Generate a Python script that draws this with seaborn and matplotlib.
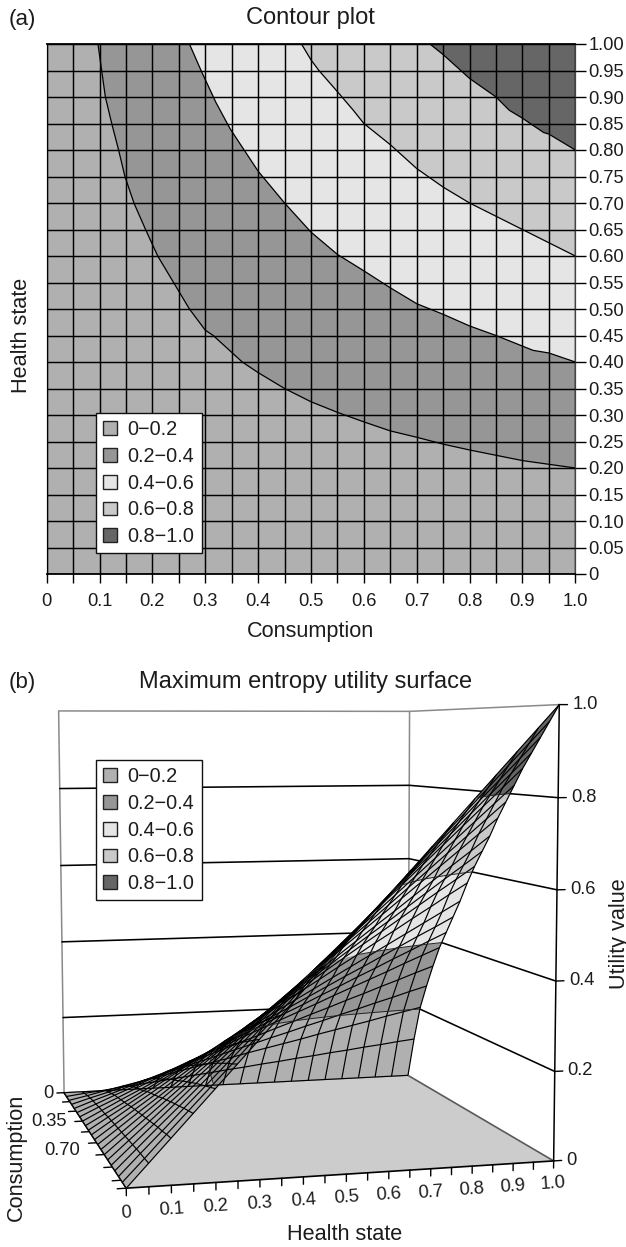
import numpy as np
import matplotlib
matplotlib.use("Agg")
import matplotlib.pyplot as plt
from matplotlib.patches import Patch
from matplotlib.ticker import MultipleLocator, FixedLocator, FixedFormatter
from mpl_toolkits.mplot3d.art3d import Poly3DCollection, Line3DCollection
import seaborn as sns

# ---------- data ----------
band_labels = ["0\u22120.2", "0.2\u22120.4", "0.4\u22120.6", "0.6\u22120.8", "0.8\u22121.0"]
band_colors = ["#b0b0b0", "#969696", "#e5e5e5", "#c9c9c9", "#666666"]
band_levels = [0.0, 0.2, 0.4, 0.6, 0.8, 1.0]

c02_x = [0.097, 0.104, 0.111, 0.123, 0.136, 0.148, 0.165, 0.187, 0.21, 0.24, 0.27, 0.30, 0.315, 0.37, 0.40, 0.45, 0.50, 0.55, 0.60, 0.65, 0.70, 0.75, 0.80, 0.85, 0.90, 0.95, 1.0]
c02_y = [1.0, 0.95, 0.90, 0.85, 0.80, 0.75, 0.70, 0.65, 0.60, 0.55, 0.50, 0.46, 0.45, 0.40, 0.38, 0.35, 0.325, 0.305, 0.287, 0.27, 0.258, 0.245, 0.234, 0.224, 0.214, 0.207, 0.20]
c04_x = [0.27, 0.292, 0.32, 0.347, 0.40, 0.45, 0.50, 0.55, 0.60, 0.65, 0.70, 0.75, 0.80, 0.85, 0.90, 0.92, 0.95, 1.0]
c04_y = [1.0, 0.95, 0.89, 0.84, 0.76, 0.70, 0.645, 0.603, 0.572, 0.54, 0.51, 0.49, 0.468, 0.45, 0.43, 0.422, 0.417, 0.40]
c06_x = [0.482, 0.50, 0.515, 0.55, 0.58, 0.60, 0.65, 0.70, 0.75, 0.80, 0.85, 0.90, 0.95, 1.0]
c06_y = [1.0, 0.97, 0.95, 0.91, 0.875, 0.85, 0.81, 0.765, 0.73, 0.70, 0.675, 0.65, 0.625, 0.60]
c08_x = [0.725, 0.75, 0.80, 0.85, 0.875, 0.90, 0.94, 0.95, 1.0]
c08_y = [1.0, 0.98, 0.935, 0.90, 0.875, 0.86, 0.833, 0.83, 0.80]

consumption_grid = np.linspace(0, 1, 21)
health_grid = np.linspace(0, 1, 21)
# rows: health state 0..1 ; columns: consumption 0..1
utility = np.array([
 [0]*21,
 [0,.006,.010,.014,.017,.019,.022,.024,.026,.029,.031,.033,.035,.037,.039,.041,.043,.045,.047,.048,.05],
 [0,.011,.021,.027,.033,.039,.043,.048,.052,.057,.062,.066,.070,.074,.078,.082,.086,.090,.093,.097,.10],
 [0,.017,.031,.041,.050,.058,.065,.071,.078,.086,.092,.098,.104,.111,.117,.123,.129,.134,.140,.145,.15],
 [0,.022,.041,.054,.066,.077,.086,.095,.104,.114,.123,.131,.139,.148,.156,.164,.172,.179,.186,.193,.20],
 [0,.028,.051,.068,.083,.096,.108,.119,.130,.143,.154,.164,.174,.185,.195,.205,.215,.224,.233,.241,.25],
 [0,.033,.062,.081,.099,.116,.129,.143,.156,.171,.185,.197,.209,.222,.234,.246,.258,.269,.279,.290,.30],
 [0,.039,.072,.095,.116,.135,.151,.166,.182,.200,.215,.229,.243,.259,.273,.287,.301,.313,.326,.338,.35],
 [0,.044,.082,.108,.132,.154,.172,.190,.208,.228,.246,.262,.278,.296,.312,.328,.344,.358,.372,.386,.40],
 [0,.050,.092,.122,.149,.173,.194,.214,.234,.257,.277,.295,.313,.333,.351,.369,.387,.403,.419,.434,.45],
 [0,.055,.103,.135,.165,.193,.215,.238,.260,.285,.308,.328,.348,.370,.390,.410,.430,.448,.465,.483,.50],
 [0,.061,.113,.149,.182,.212,.237,.261,.286,.314,.338,.360,.382,.407,.429,.451,.473,.492,.512,.531,.55],
 [0,.066,.123,.162,.198,.231,.258,.285,.312,.342,.369,.393,.417,.444,.468,.492,.516,.537,.558,.579,.60],
 [0,.072,.133,.176,.215,.250,.280,.309,.338,.371,.400,.426,.452,.481,.507,.533,.559,.582,.605,.627,.65],
 [0,.077,.144,.189,.231,.270,.301,.333,.364,.399,.431,.459,.487,.518,.546,.574,.602,.627,.651,.676,.70],
 [0,.083,.154,.203,.248,.289,.323,.356,.390,.428,.461,.491,.521,.555,.585,.615,.645,.671,.698,.724,.75],
 [0,.088,.164,.216,.264,.308,.344,.380,.416,.456,.492,.524,.556,.592,.624,.656,.688,.716,.744,.772,.80],
 [0,.094,.174,.230,.281,.327,.366,.404,.442,.485,.523,.557,.591,.629,.663,.697,.731,.761,.791,.820,.85],
 [0,.099,.185,.243,.297,.347,.387,.428,.468,.513,.554,.590,.626,.666,.702,.738,.774,.806,.837,.869,.90],
 [0,.105,.195,.257,.314,.366,.409,.451,.494,.542,.584,.622,.660,.703,.741,.779,.817,.850,.884,.917,.95],
 [0,.110,.205,.270,.330,.385,.430,.475,.520,.570,.615,.655,.695,.740,.780,.820,.860,.895,.930,.965,1.0],
])

x_major = [0, .1, .2, .3, .4, .5, .6, .7, .8, .9, 1.0]
x_major_labels = ["0", "0.1", "0.2", "0.3", "0.4", "0.5", "0.6", "0.7", "0.8", "0.9", "1.0"]
y_major = [i / 20 for i in range(21)]
y_major_labels = ["0"] + [f"{v:.2f}" for v in y_major[1:]]
z_ticks = [0, .2, .4, .6, .8, 1.0]
z_tick_labels = ["0", "0.2", "0.4", "0.6", "0.8", "1.0"]
cons_labels = ["0", "0.35", "0.70"]
cons_ticks = [0, .1167, .2333, .35, .4667, .5833, .70, .8167, .9333, 1.0]

# ---------- style ----------
W, H = 626, 1247
sns.set_theme(style="white")
INK = "#1c1c1c"
plt.rcParams.update({
    "font.family": "Liberation Sans", "text.color": INK, "xtick.color": "black",
    "ytick.color": "black", "axes.labelcolor": INK, "xtick.labelcolor": INK, "ytick.labelcolor": INK,
    "patch.linewidth": 1.0,
})
TICK_FS, LABEL_FS, TITLE_FS, LEG_FS = 13.2, 15.6, 17, 14.3

fig = plt.figure(figsize=(W / 100, H / 100), dpi=100, facecolor="white")


def add_px_text(x, y, s, **kw):
    return fig.text(x / W, 1 - y / H, s, **kw)


def band_legend(ax, left, top):
    handles = [Patch(facecolor=c, edgecolor="#222222", linewidth=1.0, label=l)
               for c, l in zip(band_colors, band_labels)]
    return ax.legend(handles=handles, loc="upper left", bbox_to_anchor=(left / W, 1 - top / H),
                     bbox_transform=fig.transFigure, fontsize=LEG_FS, frameon=True, fancybox=False,
                     edgecolor="#111111", framealpha=1, borderaxespad=0, borderpad=0.36,
                     handlelength=0.68, handleheight=0.68, handletextpad=0.55, labelspacing=0.39)


# ---------- (a) contour ----------
L, R, T, B = 46.7, 575.3, 44, 574
ax = fig.add_axes([L / W, 1 - B / H, (R - L) / W, (B - T) / H])
ax.set_facecolor(band_colors[0])
ax.set_xlim(0, 1)
ax.set_ylim(0, 1)
curves = [(c02_x, c02_y), (c04_x, c04_y), (c06_x, c06_y), (c08_x, c08_y)]
for (cx, cy), col in zip(curves, band_colors[1:]):
    ax.fill(list(cx) + [1.0], list(cy) + [1.0], color=col, lw=0, zorder=1)
ax.set_axisbelow(False)
ax.xaxis.set_major_locator(FixedLocator(x_major))
ax.xaxis.set_major_formatter(FixedFormatter(x_major_labels))
ax.xaxis.set_minor_locator(MultipleLocator(0.05))
ax.yaxis.set_major_locator(FixedLocator(y_major))
ax.yaxis.set_major_formatter(FixedFormatter(y_major_labels))
ax.yaxis.tick_right()
ax.grid(True, which="both", axis="x", color="black", lw=1.05)
ax.grid(True, which="major", axis="y", color="black", lw=1.05)
for cx, cy in curves:
    sns.lineplot(x=cx, y=cy, ax=ax, sort=False, estimator=None, color="black", lw=0.9,
                 legend=False, zorder=3)
ax.set_xlabel("")
ax.set_ylabel("")
ax.tick_params(axis="x", which="both", bottom=True, length=6.3, width=1.0, pad=7.5, labelsize=TICK_FS)
ax.tick_params(axis="y", which="major", right=True, left=False, length=8, width=1.0, pad=1.5, labelsize=TICK_FS)
for name, sp in ax.spines.items():
    sp.set_visible(True)
    sp.set_color("black" if name in ("top", "bottom") else "#444444")
    sp.set_linewidth(1.3 if name in ("top", "bottom") else 0.9)
band_legend(ax, 96, 413)

add_px_text(9, 20, "(a)", fontsize=16, va="center", ha="left")
add_px_text(310, 18, "Contour plot", fontsize=TITLE_FS, va="center", ha="center")
add_px_text(311, 631, "Consumption", fontsize=LABEL_FS, va="center", ha="center")
add_px_text(22, 335, "Health state", fontsize=LABEL_FS, va="center", ha="center", rotation=90)

# ---------- (b) surface ----------
add_px_text(9, 683, "(b)", fontsize=16, va="center", ha="left")
add_px_text(306, 682, "Maximum entropy utility surface", fontsize=TITLE_FS, va="center", ha="center")
add_px_text(345, 1235, "Health state", fontsize=LABEL_FS, va="center", ha="center")
add_px_text(16, 1157, "Consumption", fontsize=LABEL_FS, va="center", ha="center", rotation=90)
add_px_text(620, 934, "Utility value", fontsize=LABEL_FS, va="center", ha="center", rotation=90)

# camera calibration: (health, consumption, z) -> pixel position of the box
cal_world = [(0, 0, 0), (0, 1, 0), (1, 1, 0), (1, 0, 0), (0, 0, 1), (1, 0, 1), (1, 1, 1),
             (0, 0, .6), (1, 0, .6), (1, 1, .6), (0, 0, .2), (1, 1, .2)]
cal_pixel = [(63, 1092), (127, 1189), (553, 1161), (409, 1076), (58, 711), (409, 712), (561, 704),
             (62, 866), (409, 858), (555, 890), (63, 1017), (555, 1071)]
rows = []
for (a, b, c), (u, v) in zip(cal_world, cal_pixel):
    X = np.array([a, b, c, 1.0])
    rows.append(np.r_[X, np.zeros(4), -u * X])
    rows.append(np.r_[np.zeros(4), X, -v * X])
P = np.linalg.svd(np.array(rows))[2][-1].reshape(3, 4)
if P[2] @ np.array([0.5, 0.5, 0.5, 1.0]) < 0:
    P = -P
P = P / (P[2] @ np.array([0.5, 0.5, 0.5, 1.0]))

ax3 = fig.add_axes([0, 0, 1, 1 - 660 / H], projection="3d")
ax3.apply_aspect = lambda position=None: None


def camera():
    aff = ax3.transData.inverted().get_matrix()
    dx, dy, w = P[0], H * P[2] - P[1], P[2]
    return np.array([aff[0, 0] * dx + aff[0, 1] * dy + aff[0, 2] * w,
                     aff[1, 0] * dx + aff[1, 1] * dy + aff[1, 2] * w,
                     [0, 0, 0, -1.0], w])


def text3d(h, c, z, s, **kw):
    """Tick label placed through the same camera as the marks."""
    u, v, w = P @ np.array([h, c, z, 1.0])
    return add_px_text(u / w, v / w, s, **kw)


ax3.get_proj = camera
ax3.set_axis_off()
ax3.patch.set_alpha(0)
ax3.computed_zorder = False
ax3.set_xlim(0, 1)
ax3.set_ylim(0, 1)
ax3.set_zlim(0, 1)

GREY = "#8a8a8a"
# floor
ax3.add_collection3d(Poly3DCollection([[(0, 0, 0), (0, 1, 0), (1, 1, 0), (1, 0, 0)]],
                                      facecolors="#cccccc", edgecolors="none", zorder=1))
# walls
for pts, col, lw in [([(0, 0, 0), (0, 0, 1), (1, 0, 1), (1, 1, 1)], GREY, 1.1),
                     ([(1, 0, 0), (1, 0, 1)], GREY, 1.1),
                     ([(1, 0, 0), (1, 1, 0)], "#5a5a5a", 1.2),
                     ([(0, 0, 0), (1, 0, 0)], GREY, 0.8),
                     ([(1, 1, 0), (1, 1, 1)], "black", 1.1),
                     ([(0, 1, 0), (1, 1, 0)], "black", 1.2),
                     ([(0, 0, 0), (0, 1, 0)], "black", 1.3)]:
    arr = np.array(pts)
    ax3.plot(arr[:, 0], arr[:, 1], arr[:, 2], color=col, lw=lw, zorder=1.5)
for z in z_ticks[1:-1]:
    ax3.plot([0, 1, 1], [0, 0, 1], [z, z, z], color="black", lw=1.15, zorder=1.6)


def clip(poly, level, above):
    out = []
    for i, p in enumerate(poly):
        q = poly[(i + 1) % len(poly)]
        pin = (p[2] >= level) if above else (p[2] <= level)
        qin = (q[2] >= level) if above else (q[2] <= level)
        if pin:
            out.append(p)
        if pin != qin:
            t = (level - p[2]) / (q[2] - p[2])
            out.append(tuple(np.array(p) + t * (np.array(q) - np.array(p))))
    return out


polys, colors, segs = [], [], []
for i in range(len(health_grid) - 1):
    for j in range(len(consumption_grid) - 1):
        quad = [(health_grid[a], consumption_grid[b], utility[a, b])
                for a, b in [(i, j), (i + 1, j), (i + 1, j + 1), (i, j + 1)]]
        for k, col in enumerate(band_colors):
            piece = clip(quad, band_levels[k], True)
            if len(piece) >= 3:
                piece = clip(piece, band_levels[k + 1], False)
            if len(piece) >= 3:
                polys.append(piece)
                colors.append(col)
        for lev in band_levels[1:-1]:
            cross = []
            for m in range(4):
                p, q = quad[m], quad[(m + 1) % 4]
                if (p[2] - lev) * (q[2] - lev) < 0:
                    t = (lev - p[2]) / (q[2] - p[2])
                    cross.append(tuple(np.array(p) + t * (np.array(q) - np.array(p))))
            if len(cross) == 2:
                segs.append(cross)

ax3.add_collection3d(Poly3DCollection(polys, facecolors=colors, edgecolors=colors, linewidths=0.25, zorder=3))
HH, CC = np.meshgrid(health_grid, consumption_grid, indexing="ij")
ax3.plot_wireframe(HH, CC, utility, rstride=1, cstride=1, color="black", linewidth=0.85, zorder=3.5)
ax3.add_collection3d(Line3DCollection(segs, colors="#222222", linewidths=0.7, zorder=3.6))

# ticks and labels
for h in [i / 20 for i in range(21)]:
    ax3.plot([h, h], [1, 1], [0, -0.016], color="black", lw=1.0, zorder=2)
for h, s in zip(x_major, x_major_labels):
    text3d(h, 1, -0.052, s, ha="center", va="center", fontsize=TICK_FS, rotation=4)
for c in cons_ticks:
    ax3.plot([0, -0.02], [c, c], [0, 0], color="black", lw=1.0, zorder=2)
for (h_off, c), s in zip([(-0.028, 0), (-0.04, .35), (-0.05, .65)], cons_labels):
    text3d(h_off, c, 0, s, ha="right", va="center", fontsize=TICK_FS)
for z, s in zip(z_ticks, z_tick_labels):
    ax3.plot([1, 1.02], [1, 1], [z, z], color="black", lw=1.0, zorder=2)
    text3d(1.032, 1, z, s, ha="left", va="center", fontsize=TICK_FS)

band_legend(ax3, 96, 760).set_zorder(8)

fig.savefig("out.png", dpi=100, facecolor="white")
